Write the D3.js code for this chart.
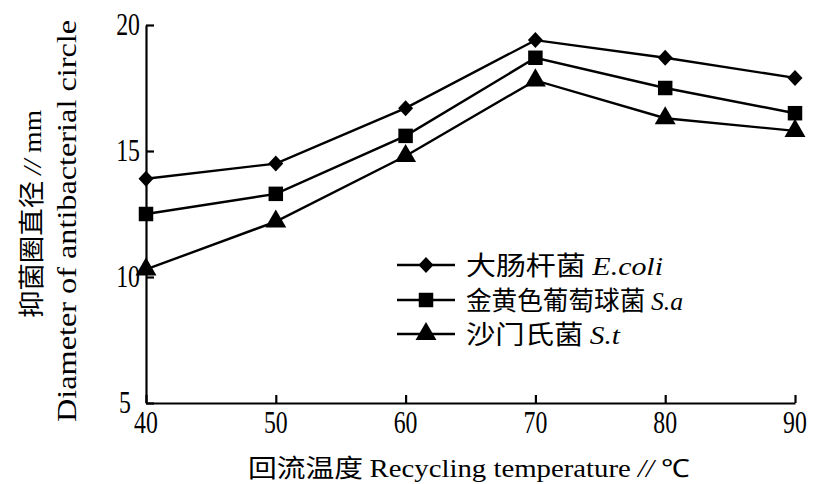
<!DOCTYPE html>
<html><head><meta charset="utf-8">
<script src="https://cdn.jsdelivr.net/npm/d3@7"></script>
<style>body{margin:0;background:#fff}svg{display:block}</style>
</head><body>
<svg id="c" width="831" height="484"></svg>
<script>
const temps = [40, 50, 60, 70, 80, 90];
const ecoli = [13.9, 14.5, 16.7, 19.4, 18.7, 17.9];
const saureus = [12.5, 13.3, 15.6, 18.7, 17.5, 16.5];
const styph = [10.3, 12.2, 14.8, 17.8, 16.3, 15.8];
const xTicks = [40, 50, 60, 70, 80, 90];
const yTicks = [5, 10, 15, 20];
const seriesNames = [["大肠杆菌 ", "E.coli"], ["金黄色葡萄球菌 ", "S.a"], ["沙门氏菌 ", "S.t"]];

const svg = d3.select("#c");
const x = d3.scaleLinear().domain([40, 90]).range([146, 795]);
const y = d3.scaleLinear().domain([5, 20]).range([403, 25]);
const serif = "'Liberation Serif','Times New Roman',serif";
const cjk = "'Noto Sans CJK SC',sans-serif";

// axes
const xa = svg.append("g").attr("transform", `translate(0,${y(5)})`)
  .call(d3.axisBottom(x).tickValues(xTicks).tickSizeInner(-8).tickSizeOuter(0).tickFormat(""));
const ya = svg.append("g").attr("transform", `translate(${x(40)},0)`)
  .call(d3.axisLeft(y).tickValues(yTicks).tickSizeInner(-8).tickSizeOuter(0).tickFormat(""));
[xa, ya].forEach(g => {
  g.select(".domain").attr("stroke", "#000").attr("stroke-width", 2.2);
  g.selectAll(".tick line").attr("stroke", "#000").attr("stroke-width", 2.2);
});

// tick labels
svg.append("g").selectAll("text").data(xTicks).join("text")
  .attr("transform", d => `translate(${x(d)},433) scale(0.82,1.08)`)
  .attr("text-anchor", "middle").attr("font-family", serif).attr("font-size", 29)
  .text(d => d);
svg.append("g").selectAll("text").data(yTicks).join("text")
  .attr("transform", d => `translate(${d === 5 ? 131 : 140},${y(d) + 10}) scale(0.82,1.08)`)
  .attr("text-anchor", "end").attr("font-family", serif).attr("font-size", 29)
  .text(d => d);

// axis titles
const xt = svg.append("text").attr("x", 248).attr("y", 477).attr("font-size", 25);
xt.append("tspan").attr("font-family", cjk).text("回流温度 ");
xt.append("tspan").attr("font-family", serif).text("Recycling temperature ");
xt.append("tspan").attr("font-family", serif).attr("font-style", "italic").text("//");
xt.append("tspan").attr("font-family", serif).text(" ℃");
xt.attr("textLength", 442).attr("lengthAdjust", "spacingAndGlyphs");

const yt1 = svg.append("text").attr("transform", "translate(41,214) rotate(-90)")
  .attr("text-anchor", "middle").attr("font-size", 26);
yt1.append("tspan").attr("font-family", cjk).text("抑菌圈直径 ");
yt1.append("tspan").attr("font-family", serif).attr("font-style", "italic").text("//");
yt1.append("tspan").attr("font-family", serif).text(" mm");
yt1.attr("textLength", 208).attr("lengthAdjust", "spacingAndGlyphs");

svg.append("text").attr("transform", "translate(76,221) rotate(-90)")
  .attr("text-anchor", "middle").attr("font-size", 27).attr("font-family", serif)
  .attr("textLength", 402).attr("lengthAdjust", "spacingAndGlyphs")
  .text("Diameter of antibacterial circle");

// series
const series = [ecoli, saureus, styph];
const diamond = "M0,-8L7.5,0L0,8L-7.5,0Z";
const shapePath = [diamond, d3.symbol().type(d3.symbolSquare).size(210)(),
  d3.symbol().type(d3.symbolTriangle).size(190)()];
const line = d3.line().x((d, i) => x(temps[i])).y(d => y(d));
series.forEach((vals, k) => {
  svg.append("path").attr("d", line(vals)).attr("fill", "none")
    .attr("stroke", "#000").attr("stroke-width", 2.4);
  svg.append("g").selectAll("path").data(vals).join("path")
    .attr("transform", (d, i) => `translate(${x(temps[i])},${y(d)})`)
    .attr("d", shapePath[k]).attr("fill", "#000");
});

// legend
const legY = [265, 300, 334];
const legLen = [197, 217, 154];
seriesNames.forEach((nm, k) => {
  const g = svg.append("g").attr("transform", `translate(0,${legY[k]})`);
  g.append("line").attr("x1", 397).attr("x2", 455).attr("stroke", "#000").attr("stroke-width", 2.4);
  g.append("path").attr("transform", "translate(426,0)")
    .attr("d", shapePath[k]).attr("fill", "#000");
  const t = g.append("text").attr("x", 466).attr("y", 10).attr("font-size", 26)
    .attr("textLength", legLen[k]).attr("lengthAdjust", "spacingAndGlyphs");
  t.append("tspan").attr("font-family", cjk).text(nm[0]);
  t.append("tspan").attr("font-family", serif).attr("font-style", "italic").text(nm[1]);
});
</script>
</body></html>
